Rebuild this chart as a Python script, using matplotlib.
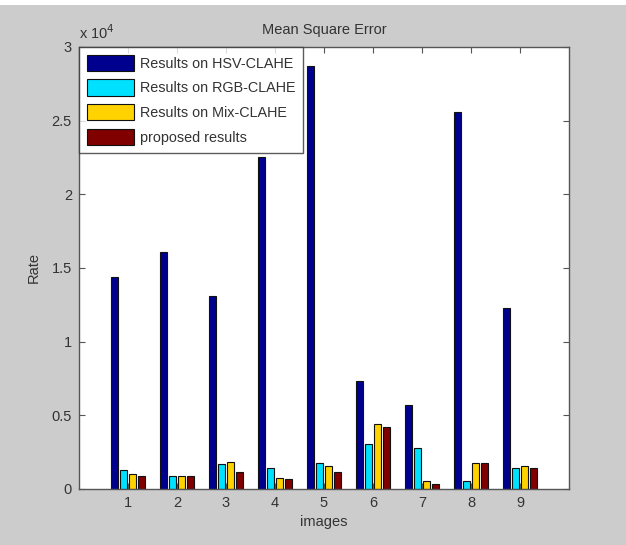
import numpy as np
import matplotlib
matplotlib.use('Agg')
import matplotlib.pyplot as plt
from matplotlib import patches

images = [1, 2, 3, 4, 5, 6, 7, 8, 9]
hsv_clahe = [14400, 16100, 13100, 22500, 28700, 7350, 5700, 25600, 12300]
rgb_clahe = [1290, 840, 1680, 1450, 1780, 3060, 2770, 500, 1400]
mix_clahe = [1020, 840, 1850, 750, 1580, 4420, 500, 1750, 1520]
proposed = [880, 840, 1170, 680, 1170, 4170, 300, 1750, 1450]
labels = ['Results on HSV-CLAHE', 'Results on RGB-CLAHE', 'Results on Mix-CLAHE', 'proposed results']
yticks = [0, 5000, 10000, 15000, 20000, 25000, 30000]
ytick_labels = ['0', '0.5', '1', '1.5', '2', '2.5', '3']

plt.rcParams['font.family'] = ['Liberation Sans', 'DejaVu Sans']
colors = ['#00008f', '#00e1ff', '#ffd200', '#800000']
series = [hsv_clahe, rgb_clahe, mix_clahe, proposed]

fig = plt.figure(figsize=(6.26, 5.45), dpi=100, facecolor='#cccccc')
# white strip at top of the scanned page
fig.patches.append(patches.Rectangle((0, 0.99), 1, 0.01, transform=fig.transFigure,
                                     facecolor='white', edgecolor='none'))
ax = fig.add_axes([0.126, 0.103, 0.783, 0.811])

x = np.array(images)
step = 0.18
for i in range(4):
    ax.bar(x + (i - 1.5) * step, series[i], width=0.145, color=colors[i],
           edgecolor='#111111', linewidth=0.8, label=labels[i])

ax.set_xlim(0, 10)
ax.set_ylim(0, 30000)
ax.set_xticks(images)
ax.set_yticks(yticks)
ax.set_yticklabels(ytick_labels)
ax.tick_params(direction='in', top=True, right=True, length=4, width=0.8,
               colors='#555555', labelcolor='#333333', labelsize=10.5, pad=5)
for s in ax.spines.values():
    s.set_color('#555555')
    s.set_linewidth(1.0)

ax.set_title('Mean Square Error', fontsize=10.5, color='#333333', pad=9)
ax.set_xlabel('images', fontsize=10.5, color='#333333', labelpad=4)
ax.set_ylabel('Rate', fontsize=10.5, color='#333333', labelpad=8)
ax.text(0.0, 1.012, r'x 10$^4$', transform=ax.transAxes, fontsize=10.5,
        color='#333333', ha='left', va='bottom')

leg = ax.legend(loc='upper left', fontsize=10.4, frameon=True, fancybox=False,
                borderaxespad=0, handlelength=3.3, handleheight=1.35,
                labelspacing=0.58, handletextpad=0.35, borderpad=0.55)
leg.get_frame().set_edgecolor('#333333')
leg.get_frame().set_linewidth(1.0)
for t in leg.get_texts():
    t.set_color('#333333')

fig.savefig('out.png', dpi=100, facecolor=fig.get_facecolor())
